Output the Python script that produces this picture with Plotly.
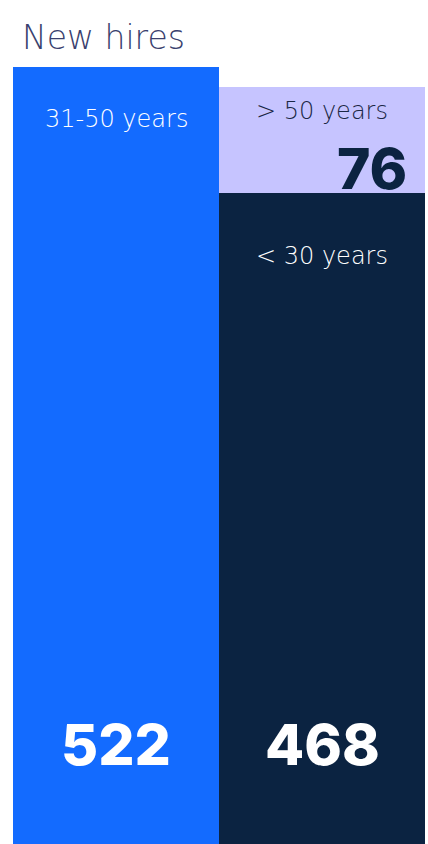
import plotly.graph_objects as go
from plotly.subplots import make_subplots

# New hires by age group
left_group = "31-50 years"
left_value = 522

right_groups = ["< 30 years", "> 50 years"]   # stacked bottom -> top
right_values = [468, 76]

BLUE = "#136BFF"
NAVY = "#0B2341"
LAVENDER = "#C6C4FF"
TITLE_COLOR = "#3A3F6E"

W, H = 428, 844
M_L, M_R, M_T, M_B = 13, 3, 67, 0
plot_h = H - M_T - M_B
right_top_px = 87  # right column starts a little lower than the left one

fig = make_subplots(rows=1, cols=2, horizontal_spacing=0, shared_yaxes=False)

fig.add_trace(
    go.Bar(x=[left_group], y=[left_value], width=1, marker=dict(color=BLUE, line_width=0),
           hoverinfo="skip"),
    row=1, col=1,
)
for name, val, col in zip(right_groups, right_values, [NAVY, LAVENDER]):
    fig.add_trace(
        go.Bar(x=["age"], y=[val], width=1, name=name, marker=dict(color=col, line_width=0),
               hoverinfo="skip"),
        row=1, col=2,
    )

right_total = sum(right_values)
fig.update_layout(
    barmode="stack",
    width=W, height=H,
    margin=dict(l=M_L, r=M_R, t=M_T, b=M_B, pad=0),
    paper_bgcolor="white", plot_bgcolor="white",
    showlegend=False,
    bargap=0,
    title=dict(text="New hires", x=22 / W, xanchor="left", xref="container",
               y=1 - 37 / H, yanchor="middle", yref="container",
               font=dict(family="DejaVu Sans", size=33, color=TITLE_COLOR, weight=200)),
)
fig.update_xaxes(visible=False, fixedrange=True)
fig.update_yaxes(visible=False, fixedrange=True)
fig.update_yaxes(range=[0, left_value], row=1, col=1)
fig.update_yaxes(range=[0, right_total], domain=[0, (H - right_top_px) / plot_h], row=1, col=2)

label_font = dict(family="DejaVu Sans", size=24, weight=200)
num_font = dict(family="Inter", size=57, weight=800)

# left column labels
fig.add_annotation(x=0.5, xref="x domain", y=left_value, yref="y", text=left_group,
                   showarrow=False, yanchor="middle", yshift=-52,
                   font=dict(**label_font, color="white"))
fig.add_annotation(x=0.5, xref="x domain", y=0, yref="y", text=f"{left_value}",
                   showarrow=False, yanchor="middle", yshift=100,
                   font=dict(**num_font, color="white"))

# right column labels
fig.add_annotation(x=0.5, xref="x2 domain", y=right_total, yref="y2", text=right_groups[1],
                   showarrow=False, yanchor="middle", yshift=-24,
                   font=dict(**label_font, color="#1A2745"))
fig.add_annotation(x=1, xref="x2 domain", y=right_total, yref="y2", text=f"{right_values[1]}",
                   showarrow=False, xanchor="right", xshift=-16, yanchor="middle", yshift=-81,
                   font=dict(**num_font, color=NAVY))
fig.add_annotation(x=0.5, xref="x2 domain", y=right_values[0], yref="y2", text=right_groups[0],
                   showarrow=False, yanchor="middle", yshift=-63,
                   font=dict(**label_font, color="white"))
fig.add_annotation(x=0.5, xref="x2 domain", y=0, yref="y2", text=f"{right_values[0]}",
                   showarrow=False, yanchor="middle", yshift=100,
                   font=dict(**num_font, color="white"))

fig.write_html("out.html", config={"displayModeBar": False})
